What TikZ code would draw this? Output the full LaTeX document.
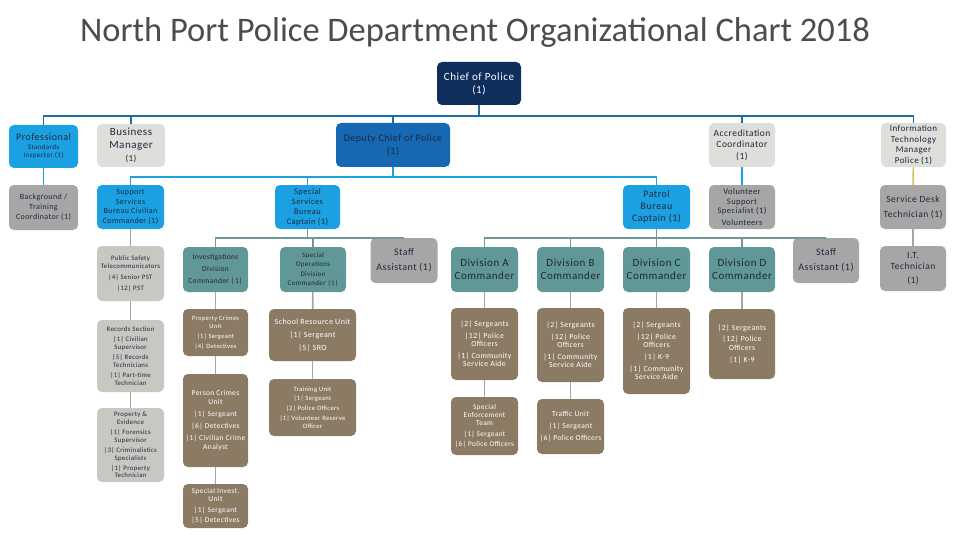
\documentclass[tikz,border=0pt]{standalone}
\usepackage{fontspec}
\setmainfont{Carlito}[LetterSpace=5]
\newfontfamily\titlefont{Carlito}
\definecolor{chiefblue}{RGB}{16,46,92}
\definecolor{deputyblue}{RGB}{22,104,178}
\definecolor{brightblue}{RGB}{27,161,226}
\definecolor{lightgray}{RGB}{222,222,218}
\definecolor{midgray}{RGB}{166,166,166}
\definecolor{palegray}{RGB}{199,200,194}
\definecolor{tealbox}{RGB}{96,152,152}
\definecolor{brownbox}{RGB}{140,123,100}
\definecolor{topline}{RGB}{31,110,160}
\definecolor{tealline}{RGB}{112,152,152}
\definecolor{yellowline}{RGB}{214,192,90}
\definecolor{inktext}{RGB}{30,40,60}
\tikzset{
  box/.style={rounded corners=5pt, align=center, inner sep=1pt, text=inktext},
  sz/.style 2 args={minimum width=#1, minimum height=#2},
  fs/.style 2 args={font=\fontsize{#1}{#2}\selectfont},
  navybox/.style={box, fill=chiefblue, text=white},
  deputybox/.style={box, fill=deputyblue},
  bluebox/.style={box, fill=brightblue},
  lgbox/.style={box, fill=lightgray},
  gbox/.style={box, fill=midgray},
  pgbox/.style={box, fill=palegray},
  tbox/.style={box, fill=tealbox, text=black!85},
  bbox/.style={box, fill=brownbox, text=white},
  conn/.style={line width=1.6pt},
}
\begin{document}
\begin{tikzpicture}[x=1pt, y=-1pt]
\useasboundingbox (0,0) rectangle (960,540);
% title
\node[text=black!70, font=\titlefont\fontsize{34.5}{40}\selectfont] (title) at (475,32)
  {North Port Police Department Organizational Chart 2018};

% top level
\node[navybox, sz={84}{43}, fs={11}{13}] (chief) at (479,83.5) {Chief of Police\\(1)};
\node[bluebox, sz={69}{43}, fs={7}{8.5}] (prof) at (43.5,146.5)
  {{\fontsize{10}{12}\selectfont Professional}\\Standards\\Inspector (1)};
\node[lgbox, sz={68}{43}, fs={11}{13}] (busmgr) at (131,145.5) {Business\\Manager\\{\fontsize{9}{11}\selectfont(1)}};
\node[deputybox, sz={114}{44}, fs={10}{12.5}] (deputy) at (393,145) {Deputy Chief of Police\\(1)};
\node[lgbox, sz={66}{44}, fs={9.5}{11.5}] (accred) at (742,145) {Accreditation\\Coordinator\\(1)};
\node[lgbox, sz={65}{44}, fs={9}{10.5}] (itmgr) at (913.5,145) {Information\\Technology\\Manager\\Police (1)};

% second level
\node[gbox, sz={69}{45}, fs={8}{10}] (bgtrain) at (43.5,207.5) {Background /\\Training\\Coordinator (1)};
\node[bluebox, sz={67}{44}, fs={8}{9.5}] (support) at (130.5,207) {Support\\Services\\Bureau Civilian\\Commander (1)};
\node[bluebox, sz={65}{44}, fs={8.5}{10}] (special) at (307.5,207) {Special\\Services\\Bureau\\Captain (1)};
\node[bluebox, sz={67}{44}, fs={10}{12}] (patrol) at (656.5,207) {Patrol\\Bureau\\Captain (1)};
\node[gbox, sz={66}{44}, fs={8.5}{9.5}] (volunteer) at (742,207) {Volunteer\\Support\\Specialist (1)\\[2pt]Volunteers};
\node[gbox, sz={66}{44}, fs={9.5}{11}] (svcdesk) at (913,207) {Service Desk\\[4pt]Technician (1)};

% support services column
\node[pgbox, sz={67}{55}, fs={6.8}{8}] (pst) at (130.5,273.5) {Public Safety\\Telecommunicators\\[3pt]|4| Senior PST\\[3pt]|12| PST};
\node[pgbox, sz={67}{72}, fs={6.8}{7.9}] (records) at (130.5,356) {Records Section\\[2pt]|1| Civilian\\Supervisor\\[2pt]|5| Records\\Technicians\\[2pt]|1| Part-time\\Technician};
\node[pgbox, sz={67}{74}, fs={6.8}{7.9}] (property) at (130.5,445) {Property \&\\Evidence\\[2pt]|1| Forensics\\Supervisor\\[2pt]|3| Criminalistics\\Specialists\\[2pt]|1| Property\\Technician};

% special services
\node[tbox, sz={65}{45}, fs={7.5}{9}] (invest) at (215.5,269.5) {Investigations\\[3pt]Division\\[3pt]Commander |1|};
\node[tbox, sz={66}{45}, fs={7}{8.5}] (specops) at (313,269.5) {Special\\Operations\\[2pt]Division\\Commander |1|};
\node[gbox, sz={67}{45}, fs={10}{12}] (staffa) at (404,260.5) {Staff\\[3pt]Assistant (1)};
\node[bbox, sz={65}{47}, fs={6.5}{8}] (propcrime) at (215.5,332.5) {Property Crimes\\Unit\\[2pt]|1| Sergeant\\[2pt]|4| Detectives};
\node[bbox, sz={65}{93}, fs={7.5}{9}] (perscrime) at (215.5,420.5) {Person Crimes\\Unit\\[3pt]|1| Sergeant\\[3pt]|6| Detectives\\[3pt]|1| Civilian Crime\\Analyst};
\node[bbox, sz={65}{44}, fs={7.5}{8.5}] (specinv) at (215.5,506) {Special Invest.\\Unit\\[2pt]|1| Sergeant\\[2pt]|5| Detectives};
\node[bbox, sz={87}{52}, fs={8}{10}] (school) at (312.5,335) {School Resource Unit\\[3pt]|1| Sergeant\\[3pt]|5| SRO};
\node[bbox, sz={87}{57}, fs={6.6}{7.8}] (training) at (312.5,407.5) {Training Unit\\[2pt]|1| Sergeant\\[2pt]|2| Police Officers\\[2pt]|1| Volunteer Reserve\\Officer};

% patrol bureau
\node[tbox, sz={67}{45}, fs={11}{13}] (diva) at (484.5,269.5) {Division A\\Commander};
\node[tbox, sz={67}{45}, fs={11}{13}] (divb) at (570.5,269.5) {Division B\\Commander};
\node[tbox, sz={67}{45}, fs={11}{13}] (divc) at (656.5,269.5) {Division C\\Commander};
\node[tbox, sz={66}{45}, fs={11}{13}] (divd) at (742,269.5) {Division D\\Commander};
\node[gbox, sz={66}{45}, fs={10}{12}] (staffb) at (826,260.5) {Staff\\[3pt]Assistant (1)};
\node[bbox, sz={67}{72}, fs={7.8}{8.6}] (squada) at (484.5,344) {|2| Sergeants\\[3pt]|12| Police\\Officers\\[3pt]|1| Community\\Service Aide};
\node[bbox, sz={67}{58}, fs={7.3}{8.3}] (set) at (484.5,426) {Special\\Enforcement\\Team\\[2pt]|1| Sergeant\\[2pt]|6| Police Officers};
\node[bbox, sz={67}{74}, fs={7.8}{8.6}] (squadb) at (570.5,345) {|2| Sergeants\\[3pt]|12| Police\\Officers\\[3pt]|1| Community\\Service Aide};
\node[bbox, sz={67}{55}, fs={7.6}{9}] (traffic) at (570.5,426.5) {Traffic Unit\\[3pt]|1| Sergeant\\[3pt]|6| Police Officers};
\node[bbox, sz={67}{86}, fs={7.8}{8.6}] (squadc) at (656.5,351) {|2| Sergeants\\[3pt]|12| Police\\Officers\\[3pt]|1| K-9\\[3pt]|1| Community\\Service Aide};
\node[bbox, sz={66}{70}, fs={7.8}{8.6}] (squadd) at (742,344) {|2| Sergeants\\[3pt]|12| Police\\Officers\\[3pt]|1| K-9};

% IT
\node[gbox, sz={66}{45}, fs={9.5}{11}] (ittech) at (913,268.5) {I.T.\\Technician\\[3pt](1)};

% connectors
\coordinate (bus1) at (479,116);
\coordinate (bus2) at (393,177);
\coordinate (bus3) at (307.5,238);
\coordinate (bus4) at (656.5,238);
\draw[conn, topline] (chief) -- (bus1);
\draw[conn, topline] (prof.north) |- (bus1) -| (itmgr.north);
\foreach \n in {busmgr, deputy, accred}
  \draw[conn, topline] (\n.north) -- (\n.north |- bus1);
\draw[conn, brightblue] (deputy) -- (bus2);
\draw[conn, brightblue] (support.north) |- (bus2) -| (patrol.north);
\draw[conn, brightblue] (special.north) -- (special.north |- bus2);
\draw[conn, brightblue] (prof) -- (bgtrain);
\draw[conn, brightblue] (accred) -- (volunteer);
\draw[conn, yellowline] (itmgr) -- (svcdesk);
\draw[conn, tealline] (special) -- (bus3);
\draw[conn, tealline] (invest.north) |- (bus3) -| (staffa.north);
\draw[conn, tealline] (specops.north) -- (specops.north |- bus3);
\draw[conn, tealline] (patrol) -- (divc);
\draw[conn, tealline] (diva.north) |- (bus4) -| (staffb.north);
\foreach \n in {divb, divd}
  \draw[conn, tealline] (\n.north) -- (\n.north |- bus4);
\foreach \a/\b in {svcdesk/ittech, support/pst, pst/records, records/property,
    invest/propcrime, propcrime/perscrime, perscrime/specinv, specops/school,
    school/training, diva/squada, squada/set, divb/squadb, squadb/traffic,
    divc/squadc, divd/squadd}
  \draw[conn, midgray] (\a) -- (\b);
\end{tikzpicture}
\end{document}
